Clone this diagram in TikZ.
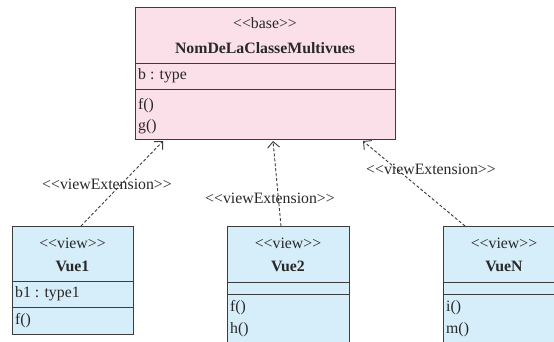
\documentclass[tikz,border=0pt]{standalone}
\usepackage{fontspec}
\setmainfont[Ligatures=NoCommon]{Liberation Serif}
\usetikzlibrary{arrows.meta}
\definecolor{basefill}{RGB}{251,224,234}
\definecolor{viewfill}{RGB}{214,237,250}
\definecolor{edge}{RGB}{60,60,60}
\definecolor{txt}{RGB}{40,40,40}
\newcommand{\stl}{<{}<}
\newcommand{\str}{>{}>}
\tikzset{
  classbox/.style={draw=edge, line width=0.9pt, rectangle, inner sep=0pt, anchor=north west},
  basebox/.style={classbox, fill=basefill},
  viewbox/.style={classbox, fill=viewfill},
  sep/.style={draw=edge, line width=0.9pt},
  txtn/.style={inner sep=0pt, text=txt, font=\fontsize{15.8}{18}\selectfont},
  head/.style={txtn, anchor=center},
  headb/.style={txtn, anchor=center, font=\fontsize{15.8}{18}\selectfont\bfseries},
  member/.style={txtn, anchor=west},
  ext/.style={draw=edge, line width=0.9pt, dashed, dash pattern=on 3pt off 2pt, -{Straight Barb[length=6pt,width=12pt]}},
  extlabel/.style={txtn, anchor=center, fill=none}
}
\begin{document}
\begin{tikzpicture}[x=1pt,y=-1pt]
\clip (0,0) rectangle (554,341);
\fill[white] (0,0) rectangle (554,341);
% base class
\node[basebox, minimum width=260pt, minimum height=132pt] (base) at (135,7) {};
\draw[sep] (135,63) -- (395,63);
\draw[sep] (135,89) -- (395,89);
\node[head] (bst) at (265,23) {\stl base\str};
\node[headb] (bname) at (265,48) {NomDeLaClasseMultivues};
\node[member] (batt) at (138,76) {b : type};
\node[member] (bf) at (138,106) {f()};
\node[member] (bg) at (138,127) {g()};
% view 1
\node[viewbox, minimum width=121pt, minimum height=108pt] (vue1) at (12,226) {};
\draw[sep] (12,281) -- (133,281);
\draw[sep] (12,307) -- (133,307);
\node[head] (v1st) at (72.5,243) {\stl view\str};
\node[headb] (v1name) at (72.5,266) {Vue1};
\node[member] (v1att) at (15,294) {b1 : type1};
\node[member] (v1f) at (15,321) {f()};
% view 2
\node[viewbox, minimum width=122pt, minimum height=130pt] (vue2) at (227,226) {};
\draw[sep] (227,282) -- (349,282);
\draw[sep] (227,294) -- (349,294);
\node[head] (v2st) at (288,243) {\stl view\str};
\node[headb] (v2name) at (288,266) {Vue2};
\node[member] (v2f) at (230,308) {f()};
\node[member] (v2h) at (230,330) {h()};
% view N
\node[viewbox, minimum width=130pt, minimum height=130pt] (vueN) at (443,226) {};
\draw[sep] (443,282) -- (580,282);
\draw[sep] (443,294) -- (580,294);
\node[head] (vNst) at (504,243) {\stl view\str};
\node[headb] (vNname) at (504,266) {VueN};
\node[member] (vNi) at (446,308) {i()};
\node[member] (vNm) at (446,330) {m()};
% connector end points
\coordinate (t1) at (163,141);
\coordinate (t2) at (273,141);
\coordinate (t3) at (363,141);
\coordinate (s1) at (81,226);
\coordinate (s2) at (281,226);
\coordinate (s3) at (465,226);
\draw[ext] (s1) -- (t1);
\draw[ext] (s2) -- (t2);
\draw[ext] (s3) -- (t3);
\node[extlabel] (l1) at (107,184) {\stl viewExtension\str};
\node[extlabel] (l2) at (270,198) {\stl viewExtension\str};
\node[extlabel] (l3) at (431,169) {\stl viewExtension\str};
\end{tikzpicture}
\end{document}
